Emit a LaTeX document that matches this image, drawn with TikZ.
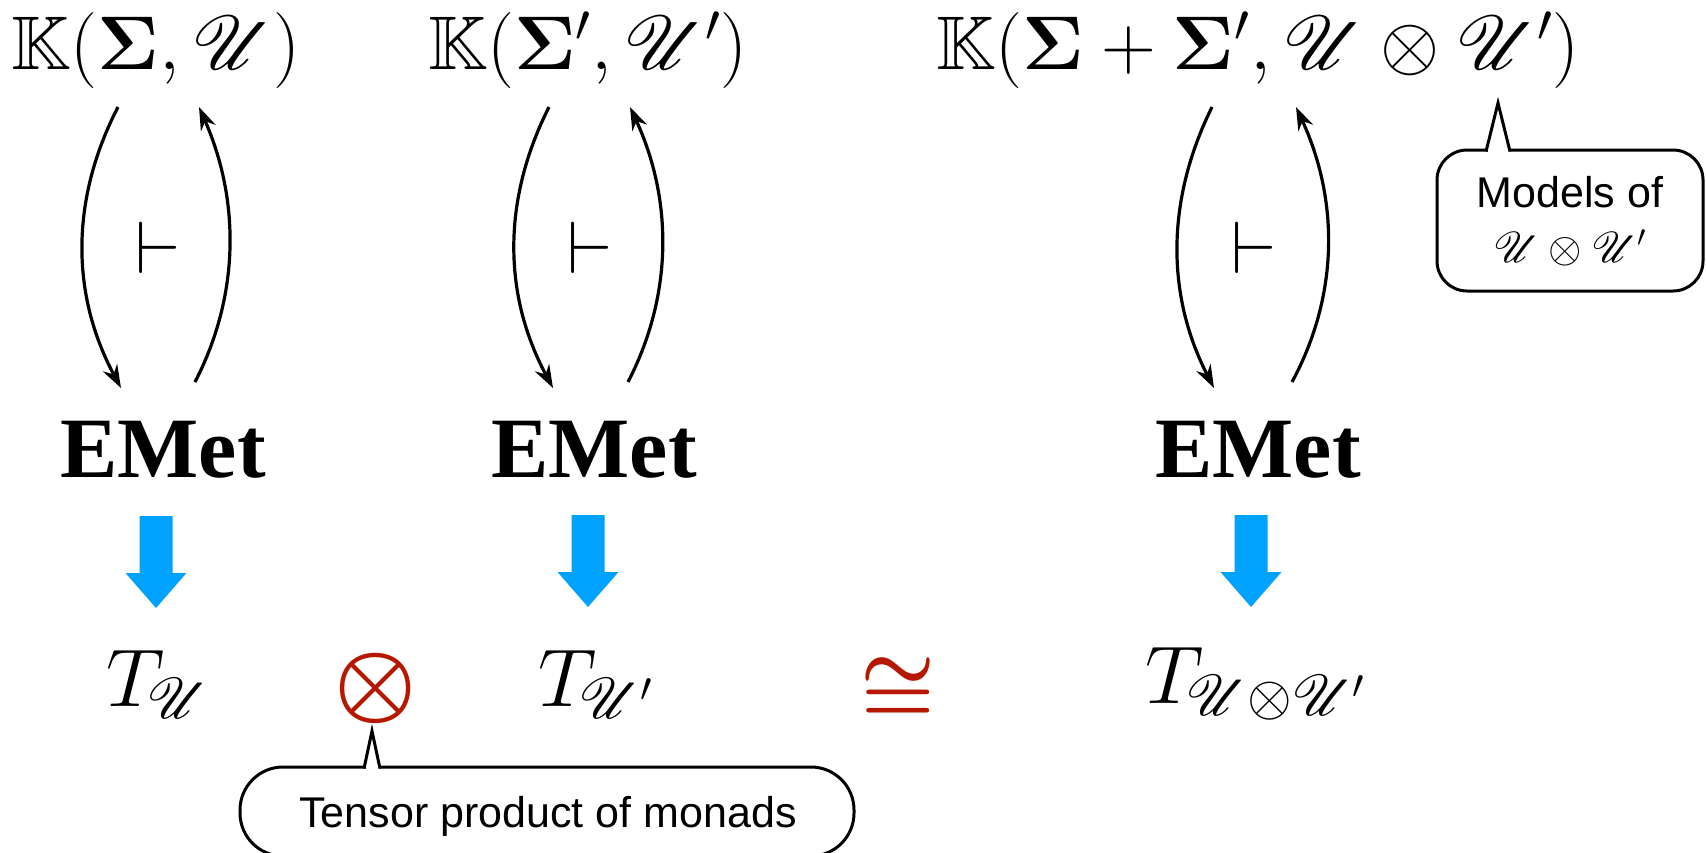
\RequirePackage{fix-cm}
\documentclass[tikz,border=0pt]{standalone}
\usepackage{amsmath}
\usepackage{amssymb}
\DeclareFontFamily{U}{rsfs}{\skewchar\font127 }
\DeclareFontShape{U}{rsfs}{m}{n}{<-> rsfs10}{}
\usepackage{mathrsfs}
\usepackage[no-math]{fontspec}
\newfontfamily\timesfont{Liberation Serif}
\newfontfamily\arialfont{Liberation Sans}
\usetikzlibrary{arrows.meta,calc}
\definecolor{tblue}{RGB}{0,162,255}
\definecolor{tred}{RGB}{181,23,0}
\tikzset{
  toplabel/.style={anchor=base, inner sep=0pt, font=\fontsize{38}{44}\selectfont},
  emet/.style={anchor=base, inner sep=0pt, font=\fontsize{43}{48}\selectfont\timesfont\bfseries},
  tlabel/.style={anchor=base, inner sep=0pt, font=\fontsize{41}{48}\selectfont},
  turn/.style={inner sep=0pt, font=\fontsize{37}{40}\selectfont},
  redsym/.style={inner sep=0pt, text=tred},
  adj/.style={line width=1.6pt, -{Stealth[length=11.5pt,width=8pt]}},
  callout/.style={line width=1.5pt},
  calltext/.style={anchor=base, inner sep=0pt, font=\fontsize{21.5}{26}\selectfont\arialfont},
  barrow/.pic={\fill[tblue] (-16.5,0) -- (16.5,0) -- (16.5,57) -- (30.5,57) -- (0,92) -- (-30.5,57) -- (-16.5,57) -- cycle;}
}
\begin{document}
\begin{tikzpicture}[x=0.5pt,y=-0.5pt]
\useasboundingbox (0,0) rectangle (1706,852);
\clip (0,0) rectangle (1706,852);

% top labels
\node[toplabel] (k1) at (156,69) {$\mathbb{K}(\mathbf{\Sigma},\mathscr{U})$};
\node[toplabel] (k2) at (588,69) {$\mathbb{K}(\mathbf{\Sigma}',\mathscr{U}')$};
\node[toplabel] (k3) at (1258,69) {$\mathbb{K}(\mathbf{\Sigma}+\mathbf{\Sigma}',\mathscr{U}\otimes\mathscr{U}')$};

% EMet
\node[emet] (e1) at (163,477) {EMet};
\node[emet] (e2) at (594,477) {EMet};
\node[emet] (e3) at (1258,477) {EMet};

% adjunction arrows
\coordinate (d1s) at (118,107); \coordinate (d1e) at (121,388);
\coordinate (u1s) at (195,382); \coordinate (u1e) at (199,107);
\draw[adj] (d1s) .. controls (70,200) and (71,295) .. (d1e);
\draw[adj] (u1s) .. controls (240,295) and (240,200) .. (u1e);
\node[turn] (v1) at (158,248) {$\vdash$};

\coordinate (d2s) at (549,107); \coordinate (d2e) at (553,388);
\coordinate (u2s) at (628,382); \coordinate (u2e) at (630,107);
\draw[adj] (d2s) .. controls (502,200) and (503,295) .. (d2e);
\draw[adj] (u2s) .. controls (673,295) and (673,200) .. (u2e);
\node[turn] (v2) at (590,248) {$\vdash$};

\coordinate (d3s) at (1212,107); \coordinate (d3e) at (1214,388);
\coordinate (u3s) at (1292,382); \coordinate (u3e) at (1296,107);
\draw[adj] (d3s) .. controls (1166,200) and (1166,295) .. (d3e);
\draw[adj] (u3s) .. controls (1339,295) and (1339,200) .. (u3e);
\node[turn] (v3) at (1254,248) {$\vdash$};

% blue block arrows
\pic at (156,516) {barrow};
\pic at (588,515) {barrow};
\pic at (1251,515) {barrow};

% monads
\node[tlabel] (t1) at (158,706) {$T_{\mkern-2mu\mathscr{U}}$};
\node[tlabel] (t2) at (596,706) {$T_{\mkern-2mu\mathscr{U}'}$};
\node[tlabel] (t3) at (1256,703) {$T_{\mkern-2mu\mathscr{U}\otimes\mathscr{U}'}$};
\node[redsym, font=\fontsize{46}{50}\selectfont] (ot) at (376,688) {$\boldsymbol{\otimes}$};
\node[redsym, font=\fontsize{42}{48}\selectfont] (cg) at (898,690) {$\boldsymbol{\cong}$};

% callout: models
\draw[callout, rounded corners=15pt] (1570,291) -- (1437,291) -- (1437,150) -- (1703,150) -- (1703,291) -- cycle;
\fill[white] (1487.5,146) rectangle (1509.5,154);
\draw[callout, line join=miter] (1486,151.5) -- (1498,103) -- (1510,151.5);
\node[calltext] (m1) at (1570,207) {Models of};
\node[calltext] (m2) at (1570,262) {$\mathscr{U}\otimes\mathscr{U}'$};

% callout: tensor product
\draw[callout, rounded corners=21.5pt] (547,856) -- (240,856) -- (240,767) -- (854,767) -- (854,856) -- cycle;
\fill[white] (365.5,763) rectangle (378.5,771);
\draw[callout, line join=miter] (364,768.5) -- (372,731) -- (380,768.5);
\node[calltext] (tp) at (548,827) {Tensor product of monads};
\end{tikzpicture}
\end{document}
